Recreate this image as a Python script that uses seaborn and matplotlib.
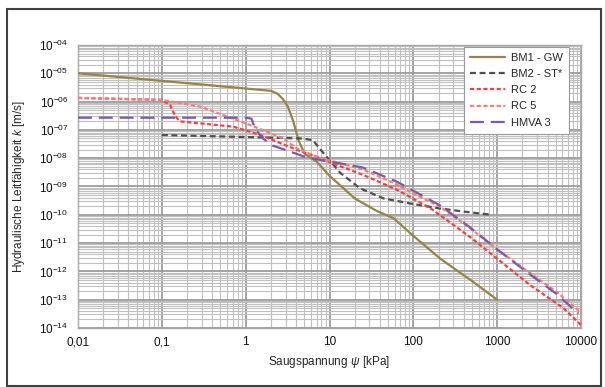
import numpy as np
import pandas as pd
import matplotlib
matplotlib.use("Agg")
import matplotlib.pyplot as plt
from matplotlib.ticker import LogLocator, NullFormatter
from matplotlib.patches import Rectangle
import seaborn as sns

# ---------------- data ----------------
series_names = ["BM1 - GW", "BM2 - ST*", "RC 2", "RC 5", "HMVA 3"]

bm1_x = [0.01, 0.1, 1, 2, 2.4, 2.8, 3.2, 3.7, 4.3, 5.1, 7, 10, 20, 36, 58, 100, 210, 480, 1000]
bm1_k = [1.0e-5, 5.4e-6, 2.9e-6, 2.4e-6, 1.9e-6, 1.2e-6, 6.5e-7, 2.0e-7, 4.0e-8, 1.4e-8,
         7.6e-9, 2.4e-9, 3.8e-10, 1.4e-10, 7.6e-11, 1.8e-11, 2.8e-12, 5.0e-13, 1.0e-13]

bm2_x = [0.1, 1, 4.5, 6.3, 8.5, 13.5, 23, 44, 100, 200, 400, 850]
bm2_k = [6.6e-8, 5.6e-8, 5.0e-8, 4.4e-8, 1.5e-8, 3.0e-9, 8.7e-10, 3.8e-10, 2.4e-10, 1.7e-10, 1.3e-10, 1.0e-10]

rc2_x = [0.01, 0.1, 0.125, 0.145, 0.165, 0.71, 1.5, 4.1, 7.8, 10, 25, 63, 160, 480, 1000, 2500, 6200, 10000]
rc2_k = [1.35e-6, 1.15e-6, 7.6e-7, 3.0e-7, 2.0e-7, 1.3e-7, 6.6e-8, 1.95e-8, 1.0e-8, 7.2e-9,
         2.6e-9, 7.8e-10, 1.7e-10, 1.6e-11, 2.8e-12, 3.2e-13, 5.0e-14, 1.26e-14]

rc5_x = [0.01, 0.1, 0.29, 1.12, 2.8, 4.1, 7.8, 10, 25, 63, 100, 210, 480, 1000, 2450, 5100, 10000]
rc5_k = [1.35e-6, 1.15e-6, 6.6e-7, 1.5e-7, 5.0e-8, 2.2e-8, 1.0e-8, 8.3e-9, 4.0e-9, 1.2e-9,
         5.6e-10, 1.9e-10, 3.3e-11, 6.0e-12, 8.9e-13, 1.9e-13, 3.5e-14]

hmva_x = [0.01, 1.0, 1.17, 1.3, 1.6, 2.1, 4.1, 5.4, 10, 25, 63, 100, 210, 480, 1000, 2450, 5100, 9300]
hmva_k = [2.7e-7, 2.7e-7, 2.5e-7, 1.1e-7, 5.0e-8, 2.8e-8, 1.4e-8, 1.05e-8, 7.6e-9, 4.7e-9,
          1.5e-9, 7.1e-10, 2.1e-10, 3.5e-11, 6.0e-12, 7.9e-13, 1.6e-13, 3.2e-14]

xtick_values = [0.01, 0.1, 1, 10, 100, 1000, 10000]
xtick_labels = ["0,01", "0,1", "1", "10", "100", "1000", "10000"]
ytick_values = [1e-14, 1e-13, 1e-12, 1e-11, 1e-10, 1e-9, 1e-8, 1e-7, 1e-6, 1e-5, 1e-4]
ytick_exps = ["-14", "-13", "-12", "-11", "-10", "-09", "-08", "-07", "-06", "-05", "-04"]

# ---------------- style ----------------
sns.set_style("white")
plt.rcParams["font.family"] = ["Liberation Sans", "DejaVu Sans"]
plt.rcParams["mathtext.fontset"] = "custom"
plt.rcParams["mathtext.rm"] = "Liberation Sans"
plt.rcParams["mathtext.it"] = "Liberation Sans:italic"
plt.rcParams["lines.scale_dashes"] = False

colors = {
    "BM1 - GW": "#958546",
    "BM2 - ST*": "#4f4f4f",
    "RC 2": "#ff3c3c",
    "RC 5": "#ff7a7a",
    "HMVA 3": "#7d5aa8",
}
styles = {
    "BM1 - GW": "-",
    "BM2 - ST*": (0, (4.3, 2.6)),
    "RC 2": (0, (3.0, 1.8)),
    "RC 5": (0, (3.0, 1.8)),
    "HMVA 3": (0, (10.0, 5.0)),
}

data = {
    "BM1 - GW": (bm1_x, bm1_k),
    "BM2 - ST*": (bm2_x, bm2_k),
    "RC 2": (rc2_x, rc2_k),
    "RC 5": (rc5_x, rc5_k),
    "HMVA 3": (hmva_x, hmva_k),
}

fig = plt.figure(figsize=(6.05, 3.87), dpi=100)
ax = fig.add_axes([78 / 605, 1 - 328 / 387, (581 - 78) / 605, (328 - 45) / 387])

ax.set_xscale("log")
ax.set_yscale("log")
ax.set_xlim(0.01, 10000)
ax.set_ylim(1e-14, 1e-4)

# grid
ax.xaxis.set_minor_locator(LogLocator(base=10, subs=np.arange(2, 10), numticks=20))
ax.yaxis.set_minor_locator(LogLocator(base=10, subs=np.arange(2, 10), numticks=30))
ax.xaxis.set_minor_formatter(NullFormatter())
ax.yaxis.set_minor_formatter(NullFormatter())
ax.grid(which="major", color="#9c9c9c", linewidth=1.3, zorder=0)
ax.grid(which="minor", color="#c0c0c0", linewidth=0.8, zorder=0)
ax.set_axisbelow(True)

for name in series_names:
    xs, ks = data[name]
    df = pd.DataFrame({"x": xs, "k": ks})
    sns.lineplot(data=df, x="x", y="k", ax=ax, color=colors[name],
                 linestyle=styles[name], linewidth=1.6, label=name,
                 sort=False, errorbar=None, zorder=3)

ax.set_xticks(xtick_values, xtick_labels)
ax.set_yticks(ytick_values, [r"$\mathregular{10^{" + e + "}}$" for e in ytick_exps])
ax.tick_params(axis="both", which="both", length=0, labelsize=8.5, colors="#111111")
ax.tick_params(axis="y", pad=7)
ax.tick_params(axis="x", pad=6)

for sp in ax.spines.values():
    sp.set_color("#a8a8a8")
    sp.set_linewidth(1.0)

ax.set_xlabel(r"Saugspannung $\mathit{\psi}$ [kPa]", fontsize=8.5, labelpad=4)
ax.set_ylabel(r"Hydraulische Leitfähigkeit $\mathit{k}$ [m/s]", fontsize=8.5, labelpad=9)

leg = ax.legend(loc="upper right", bbox_to_anchor=((569 - 78) / 503, 1 - 2 / 283),
                borderaxespad=0, frameon=True, fancybox=False, framealpha=1,
                fontsize=8, handlelength=3.1, handletextpad=0.55,
                labelspacing=0.55, borderpad=0.55)
leg.get_frame().set_edgecolor("#9a9a9a")
leg.get_frame().set_linewidth(0.8)

# outer border
fig.patches.append(Rectangle((7 / 605, 1 - 386 / 387), (601 - 7) / 605, (386 - 9) / 387,
                             transform=fig.transFigure, fill=False,
                             edgecolor="#404040", linewidth=1.5))

fig.savefig("out.png", dpi=100)
